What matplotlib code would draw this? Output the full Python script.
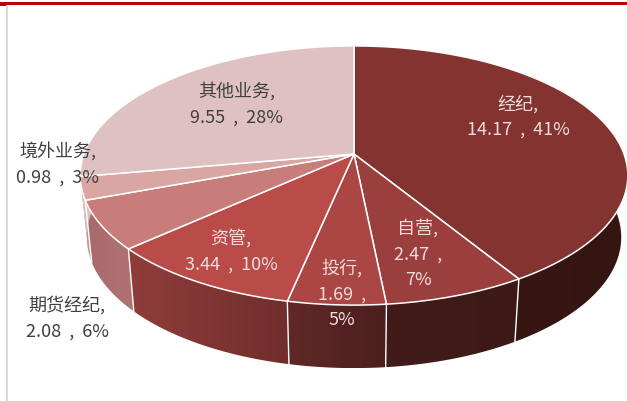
import numpy as np
import matplotlib
matplotlib.use('Agg')
from matplotlib import pyplot as plt
from matplotlib.patches import Polygon
from matplotlib.colors import to_rgb

plt.rcParams['font.family'] = ['Noto Sans CJK SC', 'DejaVu Sans']

names = ['经纪', '自营', '投行', '资管', '期货经纪', '境外业务', '其他业务']
values = [14.17, 2.47, 1.69, 3.44, 2.08, 0.98, 9.55]
value_labels = ['14.17', '2.47', '1.69', '3.44', '2.08', '0.98', '9.55']
percents = [41, 7, 5, 10, 6, 3, 28]

top_colors = ['#843430', '#9a3f3d', '#aa4644', '#b94b48', '#c97d7a', '#d9a6a4', '#e0c1c2']
side_left = ['#3a1815', '#421c1a', '#612826', '#903d3a', '#a86a6a', '#c49a98', '#d8c0c0']
side_right = ['#351512', '#3c1917', '#4a1f1d', '#702e2c', '#b07272', '#c49a98', '#d8c0c0']

# pie geometry in pixels, with a simple perspective on the disc
cx, cy = 354.0, 155.0
A, B, k = 270.0, 126.0, 0.166
depth, shrink_x, shrink_y = 61.5, 0.976, 1.01


def top_xy(theta):
    X, Y = np.sin(theta), -np.cos(theta)
    w = 1 - k * Y
    return cx + A * X / w, cy + B * Y / w


def bottom_xy(theta):
    x, y = top_xy(theta)
    return cx + shrink_x * (x - cx), cy + depth + shrink_y * (y - cy)


fig = plt.figure(figsize=(6.27, 4.02), dpi=100)
ax = fig.add_axes([0, 0, 1, 1])
ax.set_xlim(0, 627)
ax.set_ylim(402, 0)
ax.axis('off')

ax.fill_between([0, 627], 3, 6, color='#c00000', lw=0)
ax.fill_between([0, 6], 6, 7, color='#c00000', lw=0)
ax.fill_between([6, 8], 6, 402, color='#d9d9d9', lw=0)

edges = 2 * np.pi * np.concatenate(([0], np.cumsum(values))) / np.sum(values)

# side walls first, the top of the disc then covers their hidden parts
for i in range(len(values)):
    th = np.linspace(edges[i], edges[i + 1], 120)
    xt, yt = top_xy(th)
    xb, yb = bottom_xy(th)
    pts = np.column_stack((np.r_[xt, xb[::-1]], np.r_[yt, yb[::-1]]))
    x0, x1 = pts[:, 0].min(), pts[:, 0].max()
    y0, y1 = pts[:, 1].min(), pts[:, 1].max()
    t = np.linspace(0, 1, 64)[:, None]
    grad = (1 - t) * np.array(to_rgb(side_left[i])) + t * np.array(to_rgb(side_right[i]))
    im = ax.imshow(grad[None, :, :], extent=(x0, x1, y1, y0), aspect='auto',
                   interpolation='bilinear', zorder=2)
    clip = Polygon(pts, closed=True, transform=ax.transData)
    im.set_clip_path(clip)

for e in edges[1:6]:
    x0, y0 = top_xy(e)
    x1, y1 = bottom_xy(e)
    ax.plot([x0, x1], [y0, y1], color='white', lw=1.0, zorder=3)

ax.set_xlim(0, 627)
ax.set_ylim(402, 0)

for i in range(len(values)):
    th = np.linspace(edges[i], edges[i + 1], 200)
    xt, yt = top_xy(th)
    pts = np.column_stack((np.r_[cx, xt], np.r_[cy, yt]))
    ax.add_patch(Polygon(pts, closed=True, facecolor=top_colors[i], edgecolor='white',
                         lw=1.1, joinstyle='round', zorder=4))

label_x = [518, 418, 342, 231, 67, 58, 237]
label_y = [117, 254, 294, 251, 318, 164, 104]
label_colors = ['#eedcdc', '#eedcdc', '#eedcdc', '#eedcdc', '#404040', '#404040', '#404040']

for i, name in enumerate(names):
    if name in ('自营', '投行'):
        txt = '{},\n{}  ,\n{}%'.format(name, value_labels[i], percents[i])
    else:
        txt = '{},\n{}  ,  {}%'.format(name, value_labels[i], percents[i])
    ax.text(label_x[i], label_y[i], txt, color=label_colors[i], fontsize=13,
            ha='center', va='center', linespacing=1.55, zorder=5)

fig.savefig('out.png', dpi=100)
